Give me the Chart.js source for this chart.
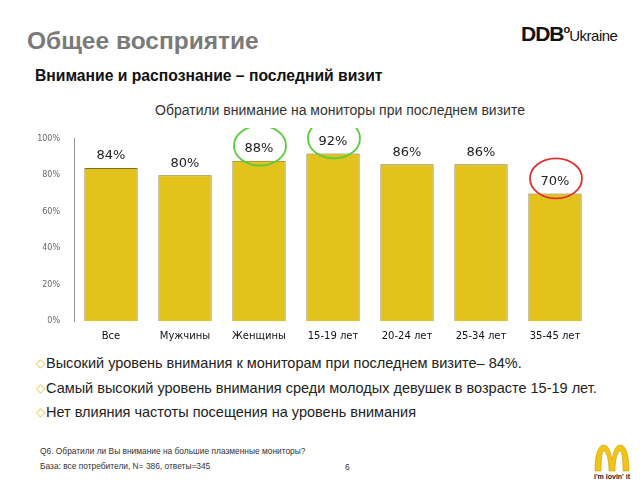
<!DOCTYPE html>
<html>
<head>
<meta charset="utf-8">
<script src="https://cdn.jsdelivr.net/npm/chart.js@4/dist/chart.umd.min.js"></script>
<style>
  body { margin: 0; width: 640px; height: 480px; background: #fff; position: relative; overflow: hidden;
         font-family: "Liberation Sans", Arial, sans-serif; }
  .abs { position: absolute; white-space: nowrap; }
  #head { left: 27px; top: 27px; font-size: 24.5px; font-weight: bold; color: #7a7a7a; }
  #sub { left: 35px; top: 67px; font-size: 15.7px; font-weight: bold; color: #111; }
  #ddb { left: 521px; top: 22px; font-size: 21px; font-weight: bold; color: #111; letter-spacing: -1px; }
  #ddb sup { font-size: 11px; vertical-align: 8px; }
  #ddb span { font-weight: normal; font-size: 15px; letter-spacing: -0.5px; }
  #ctitle { left: 0; width: 680px; text-align: center; top: 102px; font-size: 14px; color: #333; }
  .bul { left: 36px; font-size: 14.5px; color: #222; }
  .bul b { color: #e3c23a; font-weight: normal; font-size: 12px; vertical-align: 1px; margin-right: 1px; }
  .foot { left: 40px; font-size: 8.4px; color: #333; }
  #wrap { position: absolute; left: 20px; top: 128px; width: 572px; height: 217px; }
</style>
</head>
<body>
<div class="abs" id="head">Общее восприятие</div>
<div class="abs" id="ddb">DDB<sup>o</sup><span>Ukraine</span></div>
<div class="abs" id="sub">Внимание и распознание – последний визит</div>
<div class="abs" id="ctitle">Обратили внимание на мониторы при последнем визите</div>
<div id="wrap"><canvas id="c"></canvas></div>
<div class="abs bul" style="top:355px"><b>◇</b>Высокий уровень внимания к мониторам при последнем визите– 84%.</div>
<div class="abs bul" style="top:380px"><b>◇</b>Самый высокий уровень внимания среди молодых девушек в возрасте 15-19 лет.</div>
<div class="abs bul" style="top:404px"><b>◇</b>Нет влияния частоты посещения на уровень внимания</div>
<div class="abs foot" style="top:446px">Q6. Обратили ли Вы внимание на большие плазменные мониторы?</div>
<div class="abs foot" style="top:461px">База: все потребители, N= 386, ответы=345</div>
<div class="abs foot" style="left:345px;top:462px">6</div>
<svg class="abs" style="left:588px;top:444px" width="48" height="36" viewBox="0 0 48 36">
  <path d="M7 27 C7 8 11 1 16 1 C21 1 23 10 24 16 C25 10 27 1 32 1 C37 1 41 8 41 27 L35 27 C35 14 34 7 32 7 C30 7 27 14 27 27 L21 27 C21 14 18 7 16 7 C14 7 13 14 13 27 Z" fill="#f2c318" stroke="#c99a00" stroke-width="0.6"/>
  <text x="24" y="34.5" text-anchor="middle" font-size="7" font-weight="bold" font-family="Liberation Sans" fill="#222">i'm lovin' it</text>
</svg>
<script>
var categories = ['Все', 'Мужчины', 'Женщины', '15-19 лет', '20-24 лет', '25-34 лет', '35-45 лет'];
var values = [84, 80, 88, 92, 86, 86, 70];
var yTicks = [0, 20, 40, 60, 80, 100];
var greenMarked = [2, 3];
var redMarked = [6];

var labelsPlugin = {
  id: 'barLabels',
  afterDatasetsDraw: function(chart) {
    var ctx = chart.ctx;
    var meta = chart.getDatasetMeta(0);
    ctx.save();
    ctx.font = '13px "DejaVu Sans", sans-serif';
    ctx.fillStyle = '#222';
    ctx.textAlign = 'center';
    ctx.textBaseline = 'middle';
    meta.data.forEach(function(bar, i) {
      var ly = bar.y - 12;
      ctx.fillText(values[i] + '%', bar.x, ly);
      var col = greenMarked.indexOf(i) >= 0 ? '#5ccc3c' : (redMarked.indexOf(i) >= 0 ? '#e03030' : null);
      if (col) {
        ctx.beginPath();
        ctx.strokeStyle = col;
        ctx.lineWidth = 1.8;
        ctx.ellipse(bar.x + 1, ly - 3, 26, 20, 0, 0, Math.PI * 2);
        ctx.stroke();
      }
    });
    ctx.restore();
  }
};

new Chart(document.getElementById('c'), {
  type: 'bar',
  data: {
    labels: categories,
    datasets: [{
      data: values,
      backgroundColor: '#e3c21c',
      borderColor: '#7d6e1c',
      borderWidth: 1,
      categoryPercentage: 0.72,
      barPercentage: 1
    }]
  },
  options: {
    responsive: true,
    maintainAspectRatio: false,
    animation: false,
    layout: { padding: { top: 9, right: 0, left: 0, bottom: 0 } },
    plugins: { legend: { display: false }, tooltip: { enabled: false } },
    scales: {
      x: {
        grid: { display: false },
        border: { display: false },
        ticks: { color: '#111', font: { size: 10, family: '"DejaVu Sans", sans-serif' }, padding: 1, maxRotation: 0 },
        afterFit: function(s) { s.height = 24; }
      },
      y: {
        min: 0, max: 100,
        afterBuildTicks: function(s) { s.ticks = yTicks.map(function(v) { return { value: v }; }); },
        grid: { display: false },
        border: { display: true, color: '#999' },
        ticks: { color: '#666', font: { size: 8, family: '"DejaVu Sans", sans-serif' }, padding: 6,
                 callback: function(v) { return v + '%'; } },
        afterFit: function(s) { s.width = 54; }
      }
    }
  },
  plugins: [labelsPlugin]
});
</script>
</body>
</html>
